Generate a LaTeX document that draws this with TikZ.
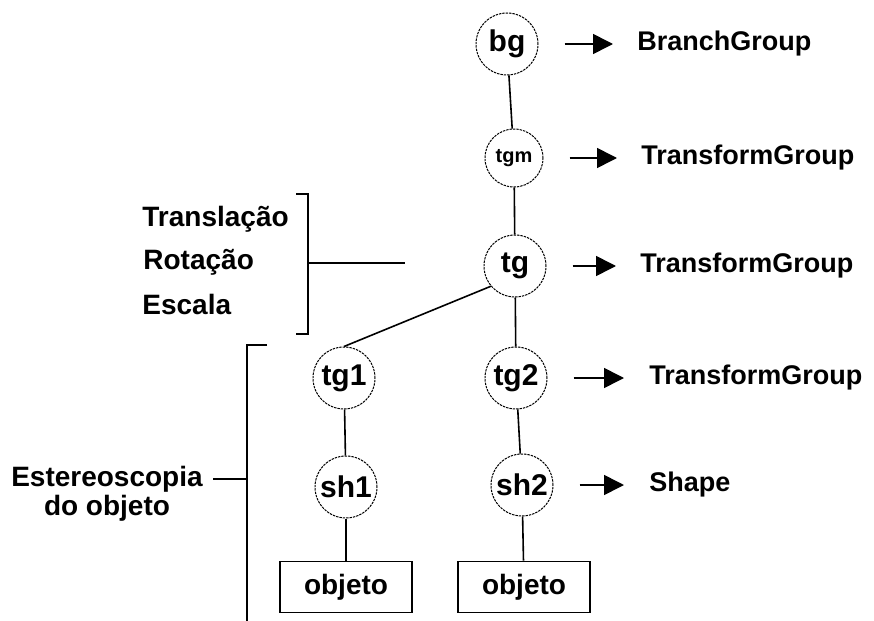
\documentclass[tikz,border=0pt]{standalone}
\usepackage{fontspec}
\setmainfont{Liberation Sans}
\usetikzlibrary{arrows.meta}

\tikzset{
  grupo/.style={circle, draw, line width=0.5pt, dash pattern=on 1.2pt off 0.5pt,
    minimum size=31pt, inner sep=0pt, font=\fontsize{15}{15}\selectfont\bfseries},
  folha/.style={draw, line width=0.8pt, minimum width=66pt, minimum height=25.5pt,
    inner sep=0pt, font=\fontsize{14}{14}\selectfont\bfseries},
  classe/.style={anchor=west, inner sep=0pt, font=\fontsize{13.5}{13.5}\selectfont\bfseries},
  rotulo/.style={anchor=west, inner sep=0pt, font=\fontsize{14}{14}\selectfont\bfseries},
  liga/.style={line width=0.8pt},
  seta/.style={-{Triangle[length=10pt,width=10pt]}, line width=0.8pt,
    shorten <=13pt, shorten >=12pt},
}

\begin{document}
\begin{tikzpicture}[x=0.5pt, y=-0.5pt]
    \useasboundingbox (0,0) rectangle (874,621);

    % Nos do grafo de cena
    \node[grupo] (bg)  at (507,44)  {bg};
    \node[grupo, font=\fontsize{10}{10}\selectfont\bfseries, minimum size=29pt] (tgm) at (514,158) {tgm};
    \node[grupo] (tg)  at (515,266) {tg};
    \node[grupo] (tg1) at (344,378) {tg1};
    \node[grupo] (tg2) at (516,378) {tg2};
    \node[grupo] (sh1) at (346,487) {sh1};
    \node[grupo] (sh2) at (522,485) {sh2};
    \node[folha] (ob1) at (346,587) {objeto};
    \node[folha] (ob2) at (524,587) {objeto};

    % Ligacoes
    \draw[liga] (bg)  -- (tgm);
    \draw[liga] (tgm) -- (tg);
    \draw[liga] (tg.220) -- (tg1.north);
    \draw[liga] (tg)  -- (tg2);
    \draw[liga] (tg1) -- (sh1);
    \draw[liga] (sh1) -- (ob1);
    \draw[liga] (tg2) -- (sh2);
    \draw[liga] (sh2) -- (ob2);

    % Classes Java 3D
    \node[classe] (cbg)  at (637,44)  {BranchGroup};
    \node[classe] (ctgm) at (641,158) {TransformGroup};
    \node[classe] (ctg)  at (640,266) {TransformGroup};
    \node[classe] (ctg2) at (649,378) {TransformGroup};
    \node[classe] (csh2) at (649,485) {Shape};
    \draw[seta] (bg)  -- (cbg);
    \draw[seta] (tgm) -- (ctgm);
    \draw[seta] (tg)  -- (ctg);
    \draw[seta] (tg2.east) -- ([xshift=-0.5pt]ctg2.west);
    \draw[seta] (sh2.east) -- ([xshift=-0.5pt]csh2.west);

    % Transformacoes
    \node[rotulo] (tr)  at (142,219) {Translação};
    \node[rotulo] (rot) at (143,262) {Rotação};
    \node[rotulo] (esc) at (142,304) {Escala};
    \coordinate (cA) at (308,194);
    \coordinate (cB) at (308,334);
    \coordinate (cM) at (308,263);
    \coordinate (cF) at (405,263);
    \draw[liga] ([xshift=-6pt]cA) -- (cA) -- (cB) -- ([xshift=-6pt]cB);
    \draw[liga] (cM) -- (cF);

    % Estereoscopia
    \node[align=center, inner sep=0pt, font=\fontsize{14}{14.5}\selectfont\bfseries]
        (est) at (107,494) {Estereoscopia\\do objeto};
    \coordinate (eA) at (247,345);
    \coordinate (eB) at (247,621);
    \coordinate (eM) at (247,479);
    \draw[liga] ([xshift=10pt]eA) -- (eA) -- (eB);
    \draw[liga] (213,479) -- (eM);
\end{tikzpicture}
\end{document}
